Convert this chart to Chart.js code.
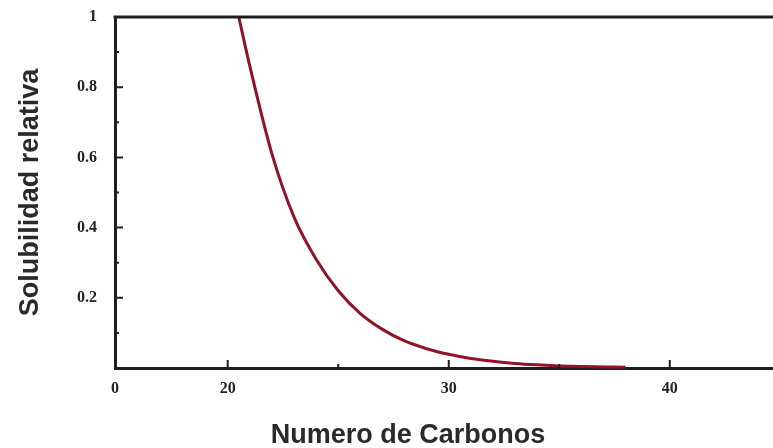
<!DOCTYPE html>
<html>
<head>
<meta charset="utf-8">
<script src="https://cdn.jsdelivr.net/npm/chart.js@4/dist/chart.umd.min.js"></script>
<style>
  html, body { margin: 0; padding: 0; background: #ffffff; }
  #wrap { width: 773px; height: 448px; position: relative; }
</style>
</head>
<body>
<div id="wrap"><canvas id="c"></canvas></div>
<script>
// Relative solubility versus carbon number
const carbons = [20.5, 21, 22, 23, 24, 25, 26, 27, 28, 29, 30, 31, 32, 33, 34, 35, 36, 37, 38];
const solubility = [1.0, 0.86, 0.61, 0.43, 0.31, 0.22, 0.155, 0.11, 0.077, 0.055, 0.039, 0.027, 0.019, 0.013, 0.009, 0.006, 0.004, 0.003, 0.002];

// Axis ticks and titles
const xMin = 14.9, xMax = 44.67;
const xLabelTicks = [20, 30, 40];
const xMinorTicks = [25, 35];
const yLabelTicks = [0.2, 0.4, 0.6, 0.8, 1];
const yMinorTicks = [0.1, 0.3, 0.5, 0.7, 0.9];
const xTitle = 'Numero de Carbonos';
const yTitle = 'Solubilidad relativa';

const axisColor = '#1e1e1e';
const titleColor = '#2a2a2a';
const tickFont = { family: '"Liberation Serif", "DejaVu Serif", serif', size: 16, weight: 'bold' };
const titleFont = { family: '"Liberation Sans", Arial, sans-serif', size: 27, weight: 'bold' };

// Inward tick marks, the top frame line and the x-axis title
const framePlugin = {
  id: 'frame',
  afterDatasetsDraw(chart) {
    const { ctx, chartArea: a, scales: { x, y } } = chart;
    ctx.save();
    ctx.strokeStyle = axisColor;
    ctx.lineCap = 'butt';
    ctx.lineWidth = 3;
    ctx.beginPath();
    ctx.moveTo(a.left - 1.5, a.top);
    ctx.lineTo(a.right, a.top);
    ctx.stroke();
    ctx.lineWidth = 2;
    ctx.beginPath();
    yLabelTicks.forEach(v => { const p = y.getPixelForValue(v); ctx.moveTo(a.left, p); ctx.lineTo(a.left + 8, p); });
    yMinorTicks.forEach(v => { const p = y.getPixelForValue(v); ctx.moveTo(a.left, p); ctx.lineTo(a.left + 4, p); });
    xLabelTicks.forEach(v => { const p = x.getPixelForValue(v); ctx.moveTo(p, a.bottom); ctx.lineTo(p, a.bottom - 8); });
    xMinorTicks.forEach(v => { const p = x.getPixelForValue(v); ctx.moveTo(p, a.bottom); ctx.lineTo(p, a.bottom - 4); });
    ctx.stroke();

    ctx.fillStyle = titleColor;
    ctx.font = `${titleFont.weight} ${titleFont.size}px ${titleFont.family}`;
    ctx.textAlign = 'center';
    ctx.textBaseline = 'alphabetic';
    ctx.fillText(xTitle, (a.left + a.right) / 2 - 36, a.bottom + 75);
    ctx.restore();
  }
};

new Chart(document.getElementById('c'), {
  type: 'line',
  data: {
    datasets: [{
      data: carbons.map((c, i) => ({ x: c, y: solubility[i] })),
      borderColor: '#8e1426',
      borderWidth: 3,
      pointRadius: 0,
      cubicInterpolationMode: 'monotone',
      clip: false
    }]
  },
  options: {
    responsive: true,
    maintainAspectRatio: false,
    animation: false,
    layout: { padding: { top: 17, right: 0, left: 0, bottom: 0 } },
    plugins: { legend: { display: false }, tooltip: { enabled: false } },
    scales: {
      x: {
        type: 'linear',
        min: xMin,
        max: xMax,
        afterBuildTicks(scale) {
          scale.ticks = [xMin].concat(xLabelTicks).map(v => ({ value: v }));
        },
        afterFit(scale) { scale.height = 80; },
        grid: { display: false, drawTicks: true, tickLength: 10 },
        border: { display: true, color: axisColor, width: 3 },
        ticks: {
          color: '#222',
          font: tickFont,
          padding: 1,
          autoSkip: false,
          maxRotation: 0,
          callback: (v) => v === xMin ? '0' : String(v)
        },
        title: { display: false }
      },
      y: {
        min: 0,
        max: 1,
        afterBuildTicks(scale) {
          scale.ticks = yLabelTicks.map(v => ({ value: v }));
        },
        afterFit(scale) { scale.width = 115; },
        grid: { display: false, drawTicks: true, tickLength: 16 },
        border: { display: true, color: axisColor, width: 3 },
        ticks: {
          color: '#222',
          font: tickFont,
          padding: 2,
          callback: (v) => String(v)
        },
        title: {
          display: true,
          text: yTitle,
          color: titleColor,
          font: titleFont,
          padding: { top: 14, bottom: 0 }
        }
      }
    }
  },
  plugins: [framePlugin]
});
</script>
</body>
</html>
